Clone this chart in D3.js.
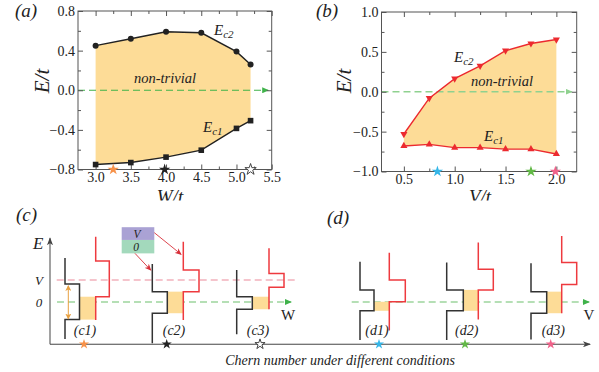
<!DOCTYPE html>
<html><head><meta charset="utf-8">
<script src="https://cdn.jsdelivr.net/npm/d3@7"></script>
<style>
body{margin:0;background:#fff}
svg{display:block}
text{font-family:"Liberation Serif","Times New Roman",serif;fill:#222}
</style>
</head><body>
<svg id="chart" width="599" height="372"></svg>
<script>
// ---------- data: panel (a) ----------
const wA = [3.0, 3.5, 4.0, 4.5, 5.0, 5.2];
const ec2A = [0.45, 0.52, 0.59, 0.58, 0.39, 0.26];
const ec1A = [-0.75, -0.73, -0.675, -0.605, -0.385, -0.307];
const starsA = [3.25, 3.98, 5.2];
const starColorsA = ["#f7924a", "#222222", "#ffffff"];
const xTicksA = [3.0, 3.5, 4.0, 4.5, 5.0, 5.5];
const yTicksA = [0.8, 0.4, 0.0, -0.4, -0.8];
// ---------- data: panel (b) ----------
const vB = [0.5, 0.75, 1.0, 1.25, 1.5, 1.75, 2.0];
const ec2B = [-0.53, -0.08, 0.165, 0.325, 0.515, 0.605, 0.655];
const ec1B = [-0.68, -0.66, -0.70, -0.70, -0.72, -0.72, -0.78];
const starsB = [0.83, 1.75, 1.99];
const starColorsB = ["#35b6e8", "#62b946", "#f0628a"];
const xTicksB = [0.5, 1.0, 1.5, 2.0];
const yTicksB = [1.0, 0.5, 0.0, -0.5, -1.0];
// ---------- data: schematics (c),(d) ----------
const schemNames = ["(c1)", "(c2)", "(c3)", "(d1)", "(d2)", "(d3)"];
const schemStarColors = ["#f7924a", "#222222", "#ffffff", "#35b6e8", "#62b946", "#f0628a"];
const schemStarPos = [34, 116.7, 210, 329, 415, 500.7];
const schemLabelPos = [35, 124, 208, 327, 416.7, 503.3];
const blackX = [[15, 29.5], [102.3, 117.3], [186.7, 202.3], [310, 324], [396.7, 413.3], [481, 496.7]];
const redX = [[45.7, 59.3], [133.3, 149], [219, 234], [339.3, 355.3], [428.3, 443.3], [511.7, 526.7]];
const blackLevels = [[2.0, 0.82, -0.80, -1.68], [1.73, 0.47, -0.51, -1.88], [1.45, 0.24, -0.33, -1.47],
                     [1.83, 0.55, -0.40, -1.73], [1.79, 0.55, -0.40, -1.73], [1.76, 0.47, -0.51, -1.70]];
const redLevels = [[2.97, 1.86, 0.24, -0.82], [2.74, 1.45, 0.47, -0.82], [2.44, 1.30, 0.67, -0.33],
                   [2.24, 1.0, 0.01, -1.30], [2.71, 1.49, 0.55, -0.79], [3.0, 1.79, 0.80, -0.51]];

const svg = d3.select("#chart");
const defs = svg.append("defs");
defs.append("clipPath").attr("id", "topClip").append("rect").attr("x", 0).attr("y", 0).attr("width", 599).attr("height", 200.5);
function marker(id, color, w, h, path, refX) {
  defs.append("marker").attr("id", id).attr("markerUnits", "userSpaceOnUse")
    .attr("viewBox", `0 0 ${w} ${h}`).attr("refX", refX).attr("refY", h / 2)
    .attr("markerWidth", w).attr("markerHeight", h).attr("orient", "auto-start-reverse")
    .append("path").attr("d", path).attr("fill", color);
}
marker("gArrow", "#3fb24a", 7, 6, "M0,0L7,3L0,6Z", 6);
marker("gArrowL", "#8fd18f", 7, 6, "M0,0L7,3L0,6Z", 6);
marker("axArrow", "#444", 8, 6, "M0,0L8,3L0,6L2,3Z", 7);
marker("oArrow", "#e8a040", 6, 6, "M0,0L6,3L0,6L1.5,3Z", 5);
marker("rArrow", "#d8303a", 7, 6, "M0,0L7,3L0,6L2,3Z", 6);

const FILL = "#fddc97";
const starSym = d3.symbol().type(d3.symbolStar);

function framePanel(g, x, y, xMaj, xMin, yMaj, yMin, fmt) {
  const [x0, x1] = x.range(), [y0, y1] = y.range();
  const tickG = g.append("g").attr("class", "ticks");
  const ax = [
    [d3.axisBottom(x), y0, xMaj, true], [d3.axisTop(x), y1, xMaj, false]
  ];
  ax.forEach(([a, yy, v, lab]) => {
    tickG.append("g").attr("transform", `translate(0,${yy})`)
      .call(a.tickValues(v).tickSize(-5).tickPadding(3).tickFormat(lab ? fmt : ""));
    tickG.append("g").attr("transform", `translate(0,${yy})`)
      .call(a.tickValues(xMin).tickSize(-3).tickFormat(""));
  });
  const ay = [[d3.axisLeft(y), x0, true], [d3.axisRight(y), x1, false]];
  ay.forEach(([a, xx, lab]) => {
    tickG.append("g").attr("transform", `translate(${xx},0)`)
      .call(a.tickValues(yMaj).tickSize(-5).tickPadding(3).tickFormat(lab ? fmt : ""));
    tickG.append("g").attr("transform", `translate(${xx},0)`)
      .call(a.tickValues(yMin).tickSize(-3).tickFormat(""));
  });
  tickG.selectAll(".domain").remove();
  tickG.attr("font-family", null);
  tickG.selectAll("g").attr("font-family", null);
  tickG.selectAll("line").attr("stroke", "#555");
  tickG.selectAll("text").style("font-family", '"Liberation Serif","Times New Roman",serif').style("font-size", "14px").attr("fill", "#222");
  g.append("rect").attr("x", x0).attr("y", y1).attr("width", x1 - x0).attr("height", y0 - y1)
    .attr("fill", "none").attr("stroke", "#555").attr("stroke-width", 1);
}

function subLabel(g, x, y, sub) {
  const t = g.append("text").attr("x", x).attr("y", y).style("font-size", "15px").style("font-style", "italic");
  t.append("tspan").text("E");
  t.append("tspan").attr("dy", 3).style("font-size", "11px").text(sub);
}

const fmt1 = d3.format(".1f");

// ================= Panel (a) =================
{
  const g = svg.append("g").attr("clip-path", "url(#topClip)");
  const x = d3.scaleLinear().domain([2.75, 5.5]).range([78, 271.7]);
  const y = d3.scaleLinear().domain([-0.8, 0.8]).range([169.5, 11]);
  const upper = wA.map((w, i) => [x(w), y(ec2A[i])]);
  const lower = wA.map((w, i) => [x(w), y(ec1A[i])]);
  g.append("path").attr("d", d3.line()(upper.concat(lower.slice().reverse())) + "Z").attr("fill", FILL);
  g.append("line").attr("x1", x(2.75)).attr("x2", x(5.45)).attr("y1", y(0)).attr("y2", y(0))
    .attr("stroke", "#3fb24a").attr("stroke-width", 1.2).attr("stroke-dasharray", "7,4").attr("marker-end", "url(#gArrow)");
  framePanel(g, x, y, xTicksA, d3.range(3.25, 5.5, 0.5), yTicksA, [0.6, 0.2, -0.2, -0.6], fmt1);
  g.append("path").attr("d", d3.line()(upper)).attr("fill", "none").attr("stroke", "#222").attr("stroke-width", 1.4);
  g.append("path").attr("d", d3.line()(lower)).attr("fill", "none").attr("stroke", "#222").attr("stroke-width", 1.4);
  g.selectAll(".c2").data(upper).join("circle").attr("cx", d => d[0]).attr("cy", d => d[1]).attr("r", 3).attr("fill", "#222");
  g.selectAll(".c1").data(lower).join("rect").attr("x", d => d[0] - 2.8).attr("y", d => d[1] - 2.8)
    .attr("width", 5.6).attr("height", 5.6).attr("fill", "#222");
  g.selectAll(".st").data(starsA).join("path").attr("d", starSym.size(40)())
    .attr("transform", d => `translate(${x(d)},${y(-0.8)})`)
    .attr("fill", (d, i) => starColorsA[i]).attr("stroke", (d, i) => i === 2 ? "#333" : "none").attr("stroke-width", 0.9);
  subLabel(g, 214, 35, "c2");
  subLabel(g, 203, 132, "c1");
  g.append("text").attr("x", 165).attr("y", 83).attr("text-anchor", "middle").style("font-size", "14.5px").style("font-style", "italic").text("non-trivial");
  g.append("text").attr("x", 15).attr("y", 17).style("font-size", "19px").style("font-style", "italic").text("(a)");
  g.append("text").attr("transform", "translate(49,81) rotate(-90)").attr("text-anchor", "middle").style("font-size", "21px").style("font-style", "italic").text("E/t");
  g.append("text").attr("x", 170).attr("y", 203).attr("text-anchor", "middle").style("font-size", "19px").style("font-style", "italic").text("W/t");
}

// ================= Panel (b) =================
{
  const g = svg.append("g").attr("clip-path", "url(#topClip)");
  const x = d3.scaleLinear().domain([0.28, 2.2]).range([381.5, 576.7]);
  const y = d3.scaleLinear().domain([-1, 1]).range([171.5, 12]);
  const upper = vB.map((v, i) => [x(v), y(ec2B[i])]);
  const lower = vB.map((v, i) => [x(v), y(ec1B[i])]);
  g.append("path").attr("d", d3.line()(upper.concat(lower.slice().reverse())) + "Z").attr("fill", FILL);
  g.append("line").attr("x1", x(0.28)).attr("x2", x(2.15)).attr("y1", y(0)).attr("y2", y(0))
    .attr("stroke", "#8fd18f").attr("stroke-width", 1.3).attr("stroke-dasharray", "7,4").attr("marker-end", "url(#gArrowL)");
  framePanel(g, x, y, xTicksB, [0.75, 1.25, 1.75], yTicksB, [0.75, 0.25, -0.25, -0.75], fmt1);
  g.append("path").attr("d", d3.line()(upper)).attr("fill", "none").attr("stroke", "#ec2a2f").attr("stroke-width", 1.4);
  g.append("path").attr("d", d3.line()(lower)).attr("fill", "none").attr("stroke", "#ec2a2f").attr("stroke-width", 1.4);
  const tri = d3.symbol().type(d3.symbolTriangle).size(22);
  g.selectAll(".t2").data(upper).join("path").attr("d", tri())
    .attr("transform", d => `translate(${d[0]},${d[1]}) rotate(180)`).attr("fill", "#ec2a2f");
  g.selectAll(".t1").data(lower).join("path").attr("d", tri())
    .attr("transform", d => `translate(${d[0]},${d[1]})`).attr("fill", "#ec2a2f");
  g.selectAll(".st").data(starsB).join("path").attr("d", starSym.size(40)())
    .attr("transform", d => `translate(${x(d)},${y(-1)})`).attr("fill", (d, i) => starColorsB[i]);
  subLabel(g, 454, 62, "c2");
  subLabel(g, 484, 141, "c1");
  g.append("text").attr("x", 502).attr("y", 86).attr("text-anchor", "middle").style("font-size", "14.5px").style("font-style", "italic").text("non-trivial");
  g.append("text").attr("x", 316).attr("y", 17).style("font-size", "19px").style("font-style", "italic").text("(b)");
  g.append("text").attr("transform", "translate(351,81) rotate(-90)").attr("text-anchor", "middle").style("font-size", "21px").style("font-style", "italic").text("E/t");
  g.append("text").attr("x", 480).attr("y", 203).attr("text-anchor", "middle").style("font-size", "19px").style("font-style", "italic").text("V/t");
}

// ================= Panels (c),(d) =================
{
  const g = svg.append("g");
  const xS = d3.scaleLinear().domain([0, 540]).range([50, 590]);
  const yS = d3.scaleLinear().domain([0, 1]).range([302, 280]);
  const axisE = -1.92;
  // axes
  g.append("line").attr("x1", xS(0)).attr("x2", xS(0)).attr("y1", yS(axisE)).attr("y2", yS(2.9))
    .attr("stroke", "#444").attr("stroke-width", 1).attr("marker-end", "url(#axArrow)");
  g.append("line").attr("x1", xS(0)).attr("x2", xS(540)).attr("y1", yS(axisE)).attr("y2", yS(axisE))
    .attr("stroke", "#444").attr("stroke-width", 1).attr("marker-end", "url(#axArrow)");
  // dashed reference lines
  g.append("line").attr("x1", xS(6.7)).attr("x2", xS(245)).attr("y1", yS(1)).attr("y2", yS(1))
    .attr("stroke", "#ec8a9a").attr("stroke-width", 1.2).attr("stroke-dasharray", "7,4");
  g.append("line").attr("x1", xS(7)).attr("x2", xS(241)).attr("y1", yS(0)).attr("y2", yS(0))
    .attr("stroke", "#6cc06c").attr("stroke-width", 1.2).attr("stroke-dasharray", "7,4").attr("marker-end", "url(#gArrow)");
  g.append("line").attr("x1", xS(301.7)).attr("x2", xS(539)).attr("y1", yS(0)).attr("y2", yS(0))
    .attr("stroke", "#6cc06c").attr("stroke-width", 1.2).attr("stroke-dasharray", "7,4").attr("marker-end", "url(#gArrow)");

  schemNames.forEach((name, i) => {
    const [bL, bR] = blackX[i], [rL, rR] = redX[i];
    const bl = blackLevels[i], rl = redLevels[i];
    const top = Math.min(bl[1], rl[2]), bot = Math.max(bl[2], rl[3]);
    g.append("rect").attr("x", xS(bR)).attr("y", yS(top)).attr("width", xS(rL) - xS(bR)).attr("height", yS(bot) - yS(top)).attr("fill", FILL);
    const step = (xl, xr, lv) => `M${xS(xl)},${yS(lv[0])}V${yS(lv[1])}H${xS(xr)}V${yS(lv[2])}H${xS(xl)}V${yS(lv[3])}`;
    g.append("path").attr("d", step(bL, bR, bl)).attr("fill", "none").attr("stroke", "#333").attr("stroke-width", 1.5);
    g.append("path").attr("d", step(rL, rR, rl)).attr("fill", "none").attr("stroke", "#ee3a3f").attr("stroke-width", 1.5);
    g.append("text").attr("x", xS(schemLabelPos[i])).attr("y", 335).attr("text-anchor", "middle")
      .style("font-size", "14px").style("font-style", "italic").text(name);
    g.append("path").attr("d", starSym.size(32)()).attr("transform", `translate(${xS(schemStarPos[i])},${yS(axisE)})`)
      .attr("fill", schemStarColors[i]).attr("stroke", i === 2 ? "#333" : "none").attr("stroke-width", 0.9);
  });
  // orange double arrow in (c1)
  g.append("line").attr("x1", xS(18.3)).attr("x2", xS(18.3)).attr("y1", yS(blackLevels[0][1]) + 2).attr("y2", yS(blackLevels[0][2]) - 1)
    .attr("stroke", "#e8a040").attr("stroke-width", 1).attr("marker-start", "url(#oArrow)").attr("marker-end", "url(#oArrow)");
  // legend boxes
  g.append("rect").attr("x", xS(71.7)).attr("y", yS(3.4)).attr("width", xS(104.3) - xS(71.7)).attr("height", yS(2.82) - yS(3.4)).attr("fill", "#aaa2d4");
  g.append("rect").attr("x", xS(71.7)).attr("y", yS(2.82)).attr("width", xS(104.3) - xS(71.7)).attr("height", yS(2.21) - yS(2.82)).attr("fill", "#a3d9bc");
  g.append("text").attr("x", xS(87)).attr("y", yS(3.11) + 4).attr("text-anchor", "middle").style("font-size", "11.5px").style("font-style", "italic").text("V");
  g.append("text").attr("x", xS(86)).attr("y", yS(2.52) + 4).attr("text-anchor", "middle").style("font-size", "11.5px").style("font-style", "italic").text("0");
  g.append("line").attr("x1", xS(104.3)).attr("y1", yS(3.15)).attr("x2", xS(131)).attr("y2", yS(2.17))
    .attr("stroke", "#d8303a").attr("stroke-width", 0.9).attr("marker-end", "url(#rArrow)");
  g.append("line").attr("x1", xS(85)).attr("y1", yS(2.21)).attr("x2", xS(100.7)).attr("y2", yS(1.45))
    .attr("stroke", "#d8303a").attr("stroke-width", 0.9).attr("marker-end", "url(#rArrow)");
  // text labels
  g.append("text").attr("x", 33).attr("y", 249).style("font-size", "17px").style("font-style", "italic").text("E");
  g.append("text").attr("x", 39).attr("y", yS(1) + 4.5).attr("text-anchor", "middle").style("font-size", "13px").style("font-style", "italic").text("V");
  g.append("text").attr("x", 39).attr("y", yS(0) + 4.5).attr("text-anchor", "middle").style("font-size", "13px").style("font-style", "italic").text("0");
  g.append("text").attr("x", 288).attr("y", 320).attr("text-anchor", "middle").style("font-size", "15px").text("W");
  g.append("text").attr("x", 589).attr("y", 320).attr("text-anchor", "middle").style("font-size", "15px").text("V");
  g.append("text").attr("x", 16).attr("y", 221).style("font-size", "19px").style("font-style", "italic").text("(c)");
  g.append("text").attr("x", 327).attr("y", 224).style("font-size", "19px").style("font-style", "italic").text("(d)");
  g.append("text").attr("x", 340).attr("y", 365).attr("text-anchor", "middle").style("font-size", "14px").style("font-style", "italic").text("Chern number under different conditions");
}
</script>
</body></html>
